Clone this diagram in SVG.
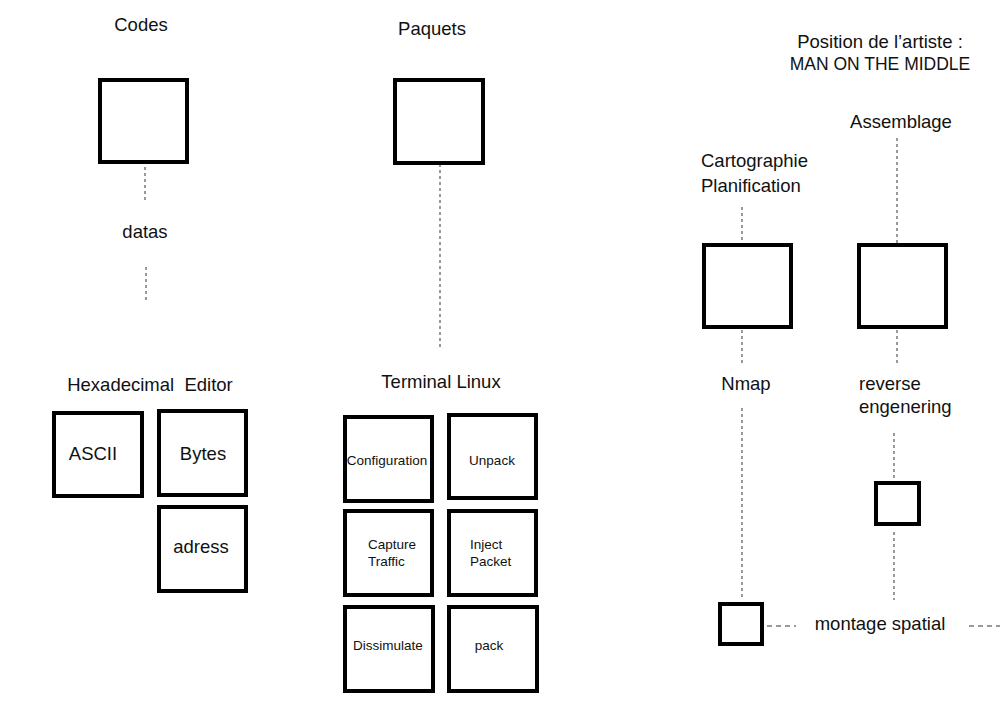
<svg xmlns="http://www.w3.org/2000/svg" width="1000" height="702" viewBox="0 0 1000 702">
<style>
  .box { fill: #ffffff; stroke: #000000; stroke-width: 4; }
  .lbl { font-family: "Liberation Sans", Arial, sans-serif; font-size: 18.5px; fill: #111111; }
  .sm { font-family: "Liberation Sans", Arial, sans-serif; font-size: 13.5px; fill: #111111; }
  .mid { text-anchor: middle; }
  .dv { stroke: #999999; stroke-width: 2; stroke-dasharray: 3 3; fill: none; }
  .dh { stroke: #999999; stroke-width: 2; stroke-dasharray: 5 4; fill: none; }
</style>
<rect x="0" y="0" width="1000" height="702" fill="#ffffff"/>

<g id="connectors">
  <line class="dv" x1="145" y1="167" x2="145" y2="201"/>
  <line class="dv" x1="146" y1="267" x2="146" y2="302"/>
  <line class="dv" x1="440" y1="164" x2="440" y2="350"/>
  <line class="dv" x1="742" y1="207" x2="742" y2="241"/>
  <line class="dv" x1="897" y1="138" x2="897" y2="245"/>
  <line class="dv" x1="742" y1="330" x2="742" y2="363"/>
  <line class="dv" x1="897" y1="330" x2="897" y2="363"/>
  <line class="dv" x1="742" y1="408" x2="742" y2="598"/>
  <line class="dv" x1="894" y1="433" x2="894" y2="479"/>
  <line class="dv" x1="894" y1="532" x2="894" y2="600"/>
  <line class="dh" x1="767" y1="626" x2="796" y2="626"/>
  <line class="dh" x1="969" y1="626" x2="1000" y2="626"/>
</g>

<g id="codes">
  <text class="lbl mid" x="141" y="31">Codes</text>
  <rect class="box" x="100" y="80" width="87" height="82"/>
</g>
<g id="datas">
  <text class="lbl mid" x="145" y="238">datas</text>
</g>

<g id="paquets">
  <text class="lbl mid" x="432" y="35">Paquets</text>
  <rect class="box" x="395" y="80" width="88" height="83"/>
</g>

<g id="hexeditor">
  <text class="lbl mid" x="150" y="391" style="white-space:pre">Hexadecimal  Editor</text>
</g>
<g id="ascii">
  <rect class="box" x="54" y="413" width="88" height="83"/>
  <text class="lbl mid" x="93" y="460">ASCII</text>
</g>
<g id="bytes">
  <rect class="box" x="159" y="411" width="87" height="84"/>
  <text class="lbl mid" x="203" y="460">Bytes</text>
</g>
<g id="adress">
  <rect class="box" x="159" y="507" width="87" height="84"/>
  <text class="lbl mid" x="201" y="553">adress</text>
</g>

<g id="terminal">
  <text class="lbl mid" x="441" y="388">Terminal Linux</text>
</g>
<g id="configuration">
  <rect class="box" x="345" y="417" width="87" height="84"/>
  <text class="sm mid" x="387" y="465">Configuration</text>
</g>
<g id="unpack">
  <rect class="box" x="449" y="415" width="87" height="83"/>
  <text class="sm mid" x="492" y="465">Unpack</text>
</g>
<g id="capture">
  <rect class="box" x="345" y="511" width="87" height="84"/>
  <text class="sm" x="368" y="549">Capture</text>
  <text class="sm" x="368" y="566">Traffic</text>
</g>
<g id="inject">
  <rect class="box" x="449" y="511" width="87" height="84"/>
  <text class="sm" x="470" y="549">Inject</text>
  <text class="sm" x="470" y="566">Packet</text>
</g>
<g id="dissimulate">
  <rect class="box" x="345" y="607" width="88" height="84"/>
  <text class="sm mid" x="388" y="650">Dissimulate</text>
</g>
<g id="pack">
  <rect class="box" x="449" y="607" width="88" height="84"/>
  <text class="sm mid" x="489" y="650">pack</text>
</g>

<g id="position">
  <text class="lbl mid" x="880" y="48">Position de l’artiste :</text>
  <text class="lbl mid" x="880" y="70" style="font-size:17.5px">MAN ON THE MIDDLE</text>
</g>
<g id="assemblage">
  <text class="lbl mid" x="901" y="128">Assemblage</text>
</g>
<g id="cartographie">
  <text class="lbl" x="701" y="167">Cartographie</text>
  <text class="lbl" x="701" y="192">Planification</text>
</g>
<g id="box-carto">
  <rect class="box" x="704" y="245" width="87" height="82"/>
</g>
<g id="box-assemblage">
  <rect class="box" x="859" y="245" width="87" height="82"/>
</g>
<g id="nmap">
  <text class="lbl mid" x="746" y="390">Nmap</text>
</g>
<g id="reverse">
  <text class="lbl" x="859" y="390">reverse</text>
  <text class="lbl" x="859" y="413">engenering</text>
</g>
<g id="box-small">
  <rect class="box" x="876" y="483" width="43" height="41"/>
</g>
<g id="box-bottom">
  <rect class="box" x="720" y="604" width="42" height="40"/>
</g>
<g id="montage">
  <text class="lbl mid" x="880" y="630">montage spatial</text>
</g>
</svg>
